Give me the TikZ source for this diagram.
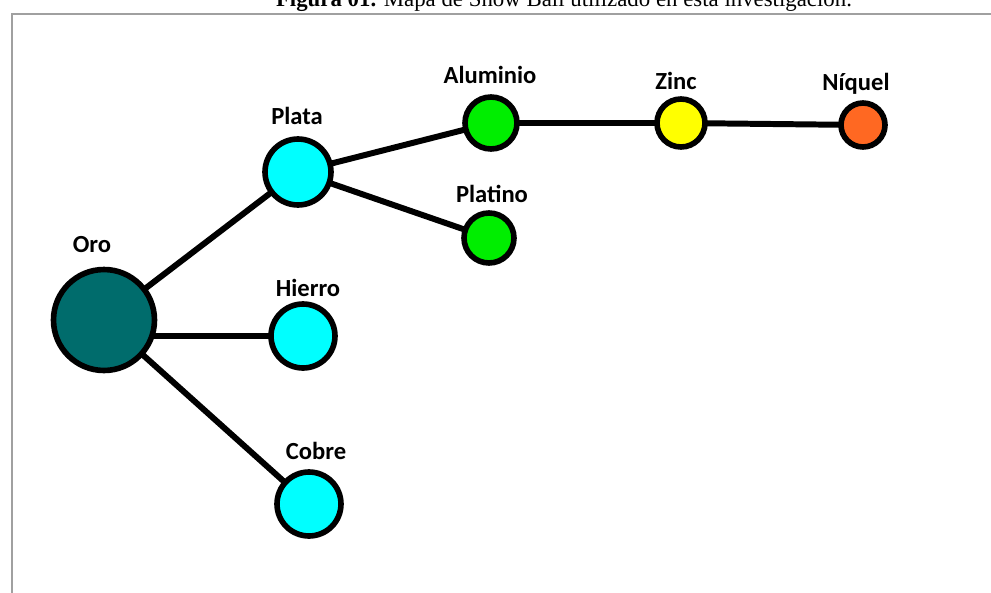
\documentclass[tikz,border=0pt]{standalone}
\usepackage{fontspec}
\setmainfont{Liberation Serif}
\newfontfamily\labelfamily{Carlito}
\usetikzlibrary{backgrounds}
\definecolor{oroteal}{RGB}{0,108,108}
\definecolor{metalcyan}{RGB}{0,255,255}
\definecolor{metalgreen}{RGB}{0,238,0}
\definecolor{metalyellow}{RGB}{255,255,0}
\definecolor{metalorange}{RGB}{255,104,34}
\definecolor{framegray}{RGB}{160,160,160}
\tikzset{
  metal/.style={circle, draw=black, line width=3.2pt, inner sep=0pt},
  metalname/.style={font=\labelfamily\bfseries\fontsize{14}{16}\selectfont, inner sep=0pt},
  link/.style={line width=3.4pt}
}
\begin{document}
\begin{tikzpicture}[x=0.02cm, y=-0.02cm]
  \useasboundingbox (0,0) rectangle (991,592);
  \clip (0,0) rectangle (991,592);
  % frame and caption
  \draw[framegray, line width=1.2pt] (12,600) -- (12,14) -- (1000,14);
  \node[anchor=base, inner sep=0pt] (caption) at (564,6)
    {\fontsize{13}{15}\selectfont\textbf{Figura 01.} Mapa de Snow Ball utilizado en esta investigación.};

  % circles
  \node[metal, fill=oroteal, minimum size=2.02cm] (oro) at (104,320) {};
  \node[metal, fill=metalcyan, minimum size=1.32cm] (plata) at (298,172) {};
  \node[metal, fill=metalcyan, minimum size=1.28cm] (hierro) at (303,336) {};
  \node[metal, fill=metalcyan, minimum size=1.28cm] (cobre) at (309,504) {};
  \node[metal, fill=metalgreen, minimum size=1.04cm] (aluminio) at (491,123) {};
  \node[metal, fill=metalgreen, minimum size=1.0cm] (platino) at (489,238) {};
  \node[metal, fill=metalyellow, minimum size=0.96cm] (zinc) at (681,123) {};
  \node[metal, fill=metalorange, minimum size=0.88cm] (niquel) at (863,125) {};

  % names
  \node[metalname] (oro-name) at (92,245) {Oro};
  \node[metalname] (plata-name) at (297,116) {Plata};
  \node[metalname] (hierro-name) at (308,288) {Hierro};
  \node[metalname] (cobre-name) at (316,451) {Cobre};
  \node[metalname] (aluminio-name) at (490,75) {Aluminio};
  \node[metalname] (platino-name) at (492,194) {Platino};
  \node[metalname] (zinc-name) at (676,81) {Zinc};
  \node[metalname] (niquel-name) at (856,84) {Níquel};

  % links
  \begin{scope}[on background layer]
    \draw[link] (oro.center) -- (plata.center);
    \draw[link] (oro.center |- hierro.center) -- (hierro.center);
    \draw[link] (oro.center) -- (cobre.center);
    \draw[link] (plata.center) -- (aluminio.center);
    \draw[link] (plata.center) -- (platino.center);
    \draw[link] (aluminio.center) -- (zinc.center) -- (niquel.center);
  \end{scope}
\end{tikzpicture}
\end{document}
